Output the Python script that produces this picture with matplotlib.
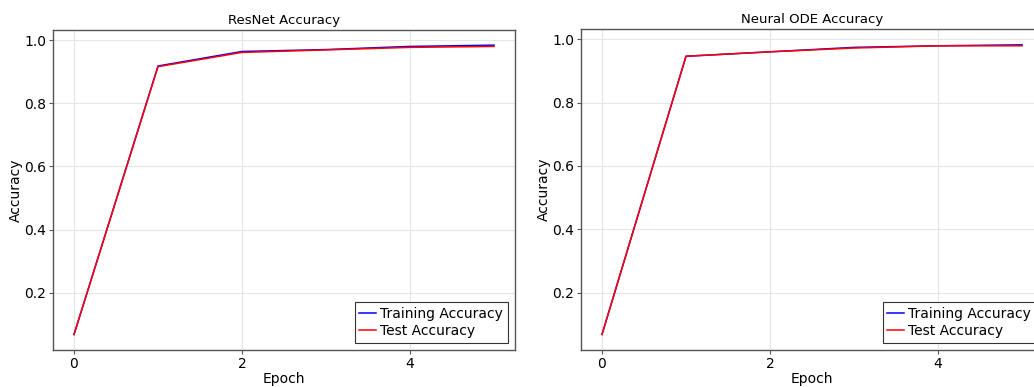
import matplotlib
matplotlib.use("Agg")
import matplotlib.pyplot as plt

epochs = [0, 1, 2, 3, 4, 5]

# ResNet
resnet_train = [0.068, 0.918, 0.964, 0.970, 0.980, 0.984]
resnet_test = [0.068, 0.916, 0.961, 0.969, 0.977, 0.980]

# Neural ODE
node_train = [0.068, 0.946, 0.960, 0.974, 0.979, 0.982]
node_test = [0.068, 0.946, 0.960, 0.972, 0.979, 0.979]

titles = ["ResNet Accuracy", "Neural ODE Accuracy"]
yticks = [0.2, 0.4, 0.6, 0.8, 1.0]
xticks = [0, 2, 4]

fig = plt.figure(figsize=(10.34, 3.87), dpi=100)
W, H = 1034, 387
# left, bottom, width, height in pixels (right panel runs off the canvas)
boxes = [(53, 37, 462, 320), (581, 37, 462, 321)]

series = [(resnet_train, resnet_test), (node_train, node_test)]

for (l, b, w, h), title, (tr, te) in zip(boxes, titles, series):
    ax = fig.add_axes([l / W, b / H, w / W, h / H])
    ax.plot(epochs, tr, color="#0000ff", lw=1.1, label="Training Accuracy")
    ax.plot(epochs, te, color="#ff0000", lw=1.1, label="Test Accuracy")
    ax.set_xlim(-0.25, 5.25)
    ax.set_ylim(0.019, 1.032)
    ax.set_xticks(xticks)
    ax.set_yticks(yticks)
    ax.set_yticklabels([f"{v:.1f}" for v in yticks])
    ax.grid(True, color="#e6e6e6", lw=0.8)
    ax.set_axisbelow(True)
    for s in ax.spines.values():
        s.set_color("#555555")
        s.set_linewidth(1.0)
    ax.tick_params(direction="out", length=3, width=0.8, color="#555555",
                   labelsize=10, pad=2)
    ax.set_title(title, fontsize=9.5, pad=4)
    ax.set_xlabel("Epoch", fontsize=10, labelpad=0.5)
    ax.set_ylabel("Accuracy", fontsize=10, labelpad=1)
    leg = ax.legend(loc="lower right", fontsize=10, fancybox=False,
                    framealpha=1, edgecolor="#333333", handlelength=1.2,
                    handletextpad=0.3, borderpad=0.35, labelspacing=0.25,
                    borderaxespad=0.5)
    leg.get_frame().set_linewidth(0.8)

fig.savefig("out.png", dpi=100)
